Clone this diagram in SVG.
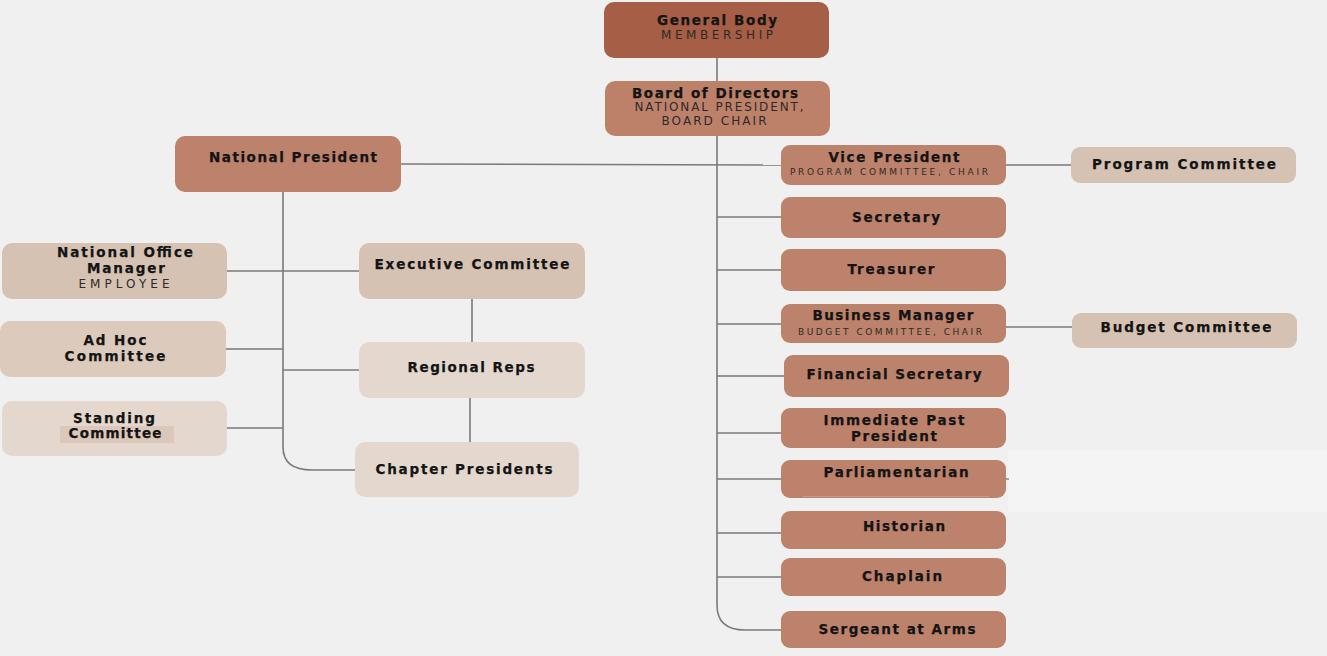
<svg xmlns="http://www.w3.org/2000/svg" width="1327" height="656" viewBox="0 0 1327 656">
<style>
.bg{fill:#f0f0f0}
.dark{fill:#bc826b}
.gb{fill:#a65f46}
.bod{fill:#bd816a}
.tan{fill:#d6c2b2}
.adhoc{fill:#dccabc}
.light{fill:#e4d8ce}
.ln{stroke:#7a7a7a;stroke-width:1.6;fill:none}
.t{font-family:"DejaVu Sans","Liberation Sans",sans-serif;font-weight:bold;font-size:13.5px;fill:#141414;stroke:#141414;stroke-width:0.25;text-anchor:middle}
.s{font-family:"DejaVu Sans","Liberation Sans",sans-serif;font-size:12px;fill:#2e2a28;text-anchor:middle}
.xs{font-family:"DejaVu Sans","Liberation Sans",sans-serif;font-size:9px;fill:#2e2a28;text-anchor:middle}
</style>
<rect class="bg" x="0" y="0" width="1327" height="656"/>
<rect x="1008" y="451" width="319" height="61" fill="#f4f4f4"/>

<g id="connectors">
  <line class="ln" x1="717" y1="58" x2="717" y2="81"/>
  <path class="ln" d="M717 136 V605 Q717 630 745 630 H781"/>
  <line class="ln" x1="401" y1="164" x2="781" y2="165"/>
  <line class="ln" x1="717" y1="217" x2="781" y2="217"/>
  <line class="ln" x1="717" y1="270" x2="781" y2="270"/>
  <line class="ln" x1="717" y1="324" x2="781" y2="324"/>
  <line class="ln" x1="717" y1="376" x2="784" y2="376"/>
  <line class="ln" x1="717" y1="433" x2="781" y2="433"/>
  <line class="ln" x1="717" y1="479" x2="781" y2="479"/>
  <line class="ln" x1="717" y1="533" x2="781" y2="533"/>
  <line class="ln" x1="717" y1="577" x2="781" y2="577"/>
  <line class="ln" x1="1006" y1="165" x2="1071" y2="165"/>
  <line class="ln" x1="1006" y1="327" x2="1072" y2="327"/>
  <line x1="1006" y1="479" x2="1009" y2="479" stroke="#555" stroke-width="1"/>
  <path class="ln" d="M283 191 V447 Q283 470 312 470 H355"/>
  <line class="ln" x1="227" y1="271" x2="359" y2="271"/>
  <line class="ln" x1="226" y1="349" x2="283" y2="349"/>
  <line class="ln" x1="283" y1="370" x2="359" y2="370"/>
  <line class="ln" x1="227" y1="428" x2="283" y2="428"/>
  <line class="ln" x1="472" y1="299" x2="472" y2="342"/>
  <line class="ln" x1="470" y1="398" x2="470" y2="442"/>
</g>

<g id="general-body">
  <rect class="gb" x="604" y="2" width="225" height="56" rx="10"/>
  <text class="t" x="717" y="25" textLength="120" lengthAdjust="spacing">General Body</text>
  <text class="s" x="717" y="39" textLength="112" lengthAdjust="spacing">MEMBERSHIP</text>
</g>

<g id="board-of-directors">
  <rect class="bod" x="605" y="81" width="225" height="55" rx="10"/>
  <text class="t" x="715" y="98" textLength="166" lengthAdjust="spacing">Board of Directors</text>
  <text class="s" x="719" y="111" textLength="169" lengthAdjust="spacing">NATIONAL PRESIDENT,</text>
  <text class="s" x="714" y="125" textLength="105" lengthAdjust="spacing">BOARD CHAIR</text>
</g>

<g id="national-president">
  <rect class="dark" x="175" y="136" width="226" height="56" rx="10"/>
  <text class="t" x="293" y="162" textLength="168" lengthAdjust="spacing">National President</text>
</g>

<g id="vice-president">
  <rect class="dark" x="781" y="145" width="225" height="40" rx="9"/>
  <text class="t" x="894" y="162" textLength="131" lengthAdjust="spacing">Vice President</text>
  <text class="xs" x="889" y="175" textLength="198" lengthAdjust="spacing">PROGRAM COMMITTEE, CHAIR</text>
</g>

<g id="program-committee">
  <rect class="tan" x="1071" y="147" width="225" height="36" rx="9"/>
  <text class="t" x="1184" y="169" textLength="184" lengthAdjust="spacing">Program Committee</text>
</g>

<g id="secretary">
  <rect class="dark" x="781" y="197" width="225" height="41" rx="9"/>
  <text class="t" x="896" y="222" textLength="88" lengthAdjust="spacing">Secretary</text>
</g>

<g id="treasurer">
  <rect class="dark" x="781" y="249" width="225" height="42" rx="9"/>
  <text class="t" x="891" y="274" textLength="87" lengthAdjust="spacing">Treasurer</text>
</g>

<g id="business-manager">
  <rect class="dark" x="781" y="304" width="225" height="39" rx="9"/>
  <text class="t" x="893" y="320" textLength="161" lengthAdjust="spacing">Business Manager</text>
  <text class="xs" x="890" y="335" textLength="184" lengthAdjust="spacing">BUDGET COMMITTEE, CHAIR</text>
</g>

<g id="budget-committee">
  <rect class="tan" x="1072" y="313" width="225" height="35" rx="9"/>
  <text class="t" x="1186" y="332" textLength="171" lengthAdjust="spacing">Budget Committee</text>
</g>

<g id="financial-secretary">
  <rect class="dark" x="784" y="355" width="225" height="42" rx="9"/>
  <text class="t" x="894" y="379" textLength="175" lengthAdjust="spacing">Financial Secretary</text>
</g>

<g id="immediate-past-president">
  <rect class="dark" x="781" y="408" width="225" height="40" rx="9"/>
  <text class="t" x="894" y="425" textLength="141" lengthAdjust="spacing">Immediate Past</text>
  <text class="t" x="894" y="441" textLength="86" lengthAdjust="spacing">President</text>
</g>

<g id="parliamentarian">
  <rect class="dark" x="781" y="460" width="225" height="38" rx="9"/>
  <line x1="803" y1="496.5" x2="989" y2="496.5" stroke="#c99a86" stroke-width="1"/>
  <text class="t" x="896" y="477" textLength="145" lengthAdjust="spacing">Parliamentarian</text>
</g>

<g id="historian">
  <rect class="dark" x="781" y="511" width="225" height="38" rx="9"/>
  <text class="t" x="904" y="531" textLength="82" lengthAdjust="spacing">Historian</text>
</g>

<g id="chaplain">
  <rect class="dark" x="781" y="558" width="225" height="38" rx="9"/>
  <text class="t" x="902" y="581" textLength="80" lengthAdjust="spacing">Chaplain</text>
</g>

<g id="sergeant-at-arms">
  <rect class="dark" x="781" y="611" width="225" height="37" rx="9"/>
  <text class="t" x="897" y="634" textLength="157" lengthAdjust="spacing">Sergeant at Arms</text>
</g>

<g id="national-office-manager">
  <rect class="tan" x="2" y="243" width="225" height="56" rx="10"/>
  <text class="t" x="125" y="257" textLength="136" lengthAdjust="spacing">National Office</text>
  <text class="t" x="126" y="273" textLength="78" lengthAdjust="spacing">Manager</text>
  <text class="s" x="124" y="288" textLength="91" lengthAdjust="spacing">EMPLOYEE</text>
</g>

<g id="executive-committee">
  <rect class="tan" x="359" y="243" width="226" height="56" rx="10"/>
  <text class="t" x="472" y="269" textLength="195" lengthAdjust="spacing">Executive Committee</text>
</g>

<g id="ad-hoc-committee">
  <rect class="adhoc" x="0" y="321" width="226" height="56" rx="10"/>
  <text class="t" x="115" y="345" textLength="63" lengthAdjust="spacing">Ad Hoc</text>
  <text class="t" x="115" y="361" textLength="101" lengthAdjust="spacing">Committee</text>
</g>

<g id="regional-reps">
  <rect class="light" x="359" y="342" width="226" height="56" rx="10"/>
  <text class="t" x="471" y="372" textLength="127" lengthAdjust="spacing">Regional Reps</text>
</g>

<g id="standing-committee">
  <rect class="light" x="2" y="401" width="225" height="55" rx="10"/>
  <rect x="60" y="426" width="114" height="17" fill="#dcc8ba"/>
  <text class="t" x="114" y="423" textLength="82" lengthAdjust="spacing">Standing</text>
  <text class="t" x="115" y="438" textLength="93" lengthAdjust="spacing">Committee</text>
</g>

<g id="chapter-presidents">
  <rect class="light" x="355" y="442" width="224" height="55" rx="10"/>
  <text class="t" x="464" y="474" textLength="177" lengthAdjust="spacing">Chapter Presidents</text>
</g>
</svg>
